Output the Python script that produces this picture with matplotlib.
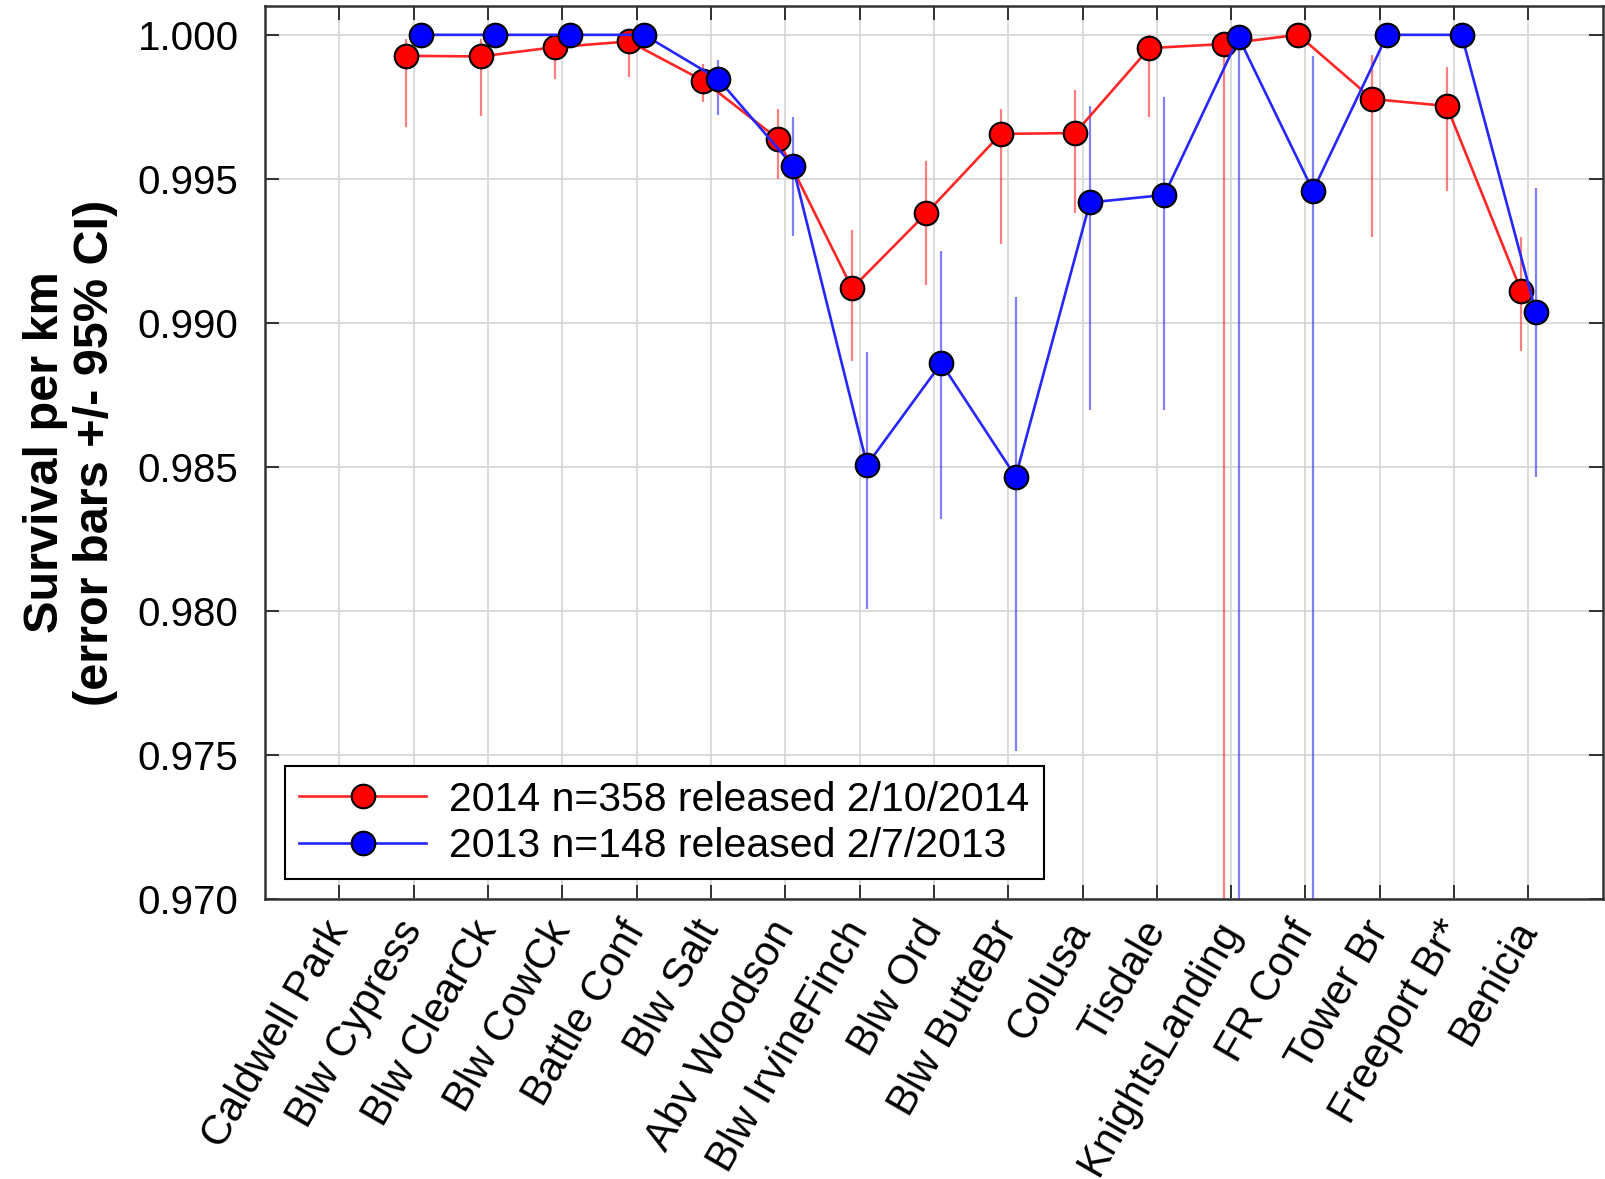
import numpy as np
import matplotlib.pyplot as plt

plt.rcParams['font.family'] = ['Liberation Sans', 'DejaVu Sans']

# reach names (upstream -> downstream)
sites = ["Caldwell Park", "Blw Cypress", "Blw ClearCk", "Blw CowCk", "Battle Conf",
         "Blw Salt", "Abv Woodson", "Blw IrvineFinch", "Blw Ord", "Blw ButteBr",
         "Colusa", "Tisdale", "KnightsLanding", "FR Conf", "Tower Br",
         "Freeport Br*", "Benicia"]

nan = np.nan
# 2014 release: survival per km and 95% CI
surv_2014 = [nan, 0.99927, 0.99925, 0.99957, 0.99977, 0.99840, 0.99639, 0.99120, 0.99381,
             0.99656, 0.99659, 0.99954, 0.99968, 1.000, 0.99777, 0.99753, 0.99112]
lo_2014 = [nan, 0.99680, 0.99719, 0.99847, 0.99852, 0.99768, 0.99500, 0.98868, 0.99130,
           0.99274, 0.99381, 0.99713, 0.950, 1.000, 0.99298, 0.99459, 0.98904]
hi_2014 = [nan, 0.99985, 0.99985, 1.000, 1.000, 0.99900, 0.99742, 0.99321, 0.99563,
           0.99744, 0.99809, 1.000, 1.000, 1.000, 0.99931, 0.99887, 0.99298]

# 2013 release
surv_2013 = [nan, 1.000, 1.000, 1.000, 1.000, 0.99846, 0.99546, 0.98507, 0.98860,
             0.98466, 0.99418, 0.99444, 0.99991, 0.99459, 1.000, 1.000, 0.99037]
lo_2013 = [nan, 1.000, 1.000, 1.000, 1.000, 0.99722, 0.99300, 0.98006, 0.98318,
           0.97514, 0.98698, 0.98696, 0.950, 0.950, 1.000, 1.000, 0.98464]
hi_2013 = [nan, 1.000, 1.000, 1.000, 1.000, 0.99913, 0.99714, 0.98898, 0.99251,
           0.99091, 0.99753, 0.99784, 1.000, 0.99927, 1.000, 1.000, 0.99468]

x = np.arange(1, len(sites) + 1)
off = 0.1  # small dodge so the two years don't sit on top of each other

fig = plt.figure(figsize=(16.06, 11.79), dpi=100)
ax = fig.add_axes([0.165, 0.2375, 0.833, 0.7574])

# error bars (behind markers)
ax.vlines(x - off, lo_2014, hi_2014, color='red', lw=1.6, alpha=0.5, zorder=2)
ax.vlines(x + off, lo_2013, hi_2013, color='blue', lw=1.6, alpha=0.5, zorder=2)

ax.plot(x - off, surv_2014, color=(1, 0.15, 0.15), lw=1.9, marker='o', ms=17,
        mfc='red', mec='black', mew=1.5, zorder=3,
        label='2014 n=358 released 2/10/2014')
ax.plot(x + off, surv_2013, color=(0.15, 0.15, 1), lw=1.9, marker='o', ms=17,
        mfc='blue', mec='black', mew=1.5, zorder=4,
        label='2013 n=148 released 2/7/2013')

ax.set_xlim(0, 18)
ax.set_ylim(0.970, 1.001)
yt = np.arange(0.970, 1.0001, 0.005)
ax.set_yticks(yt)
ax.set_yticklabels([f'{v:.3f}' for v in yt])
ax.set_xticks(x)
ax.set_xticklabels(sites, rotation=60, ha='right', va='center', rotation_mode='anchor')

ax.grid(True, color='#d4d4d4', lw=1.2)
ax.set_axisbelow(True)
ax.tick_params(direction='in', length=10, width=1.3, top=True, right=True,
               color='#222222')
ax.tick_params(axis='y', labelsize=29, pad=19)
ax.tick_params(axis='x', labelsize=30, pad=18)
for s in ax.spines.values():
    s.set_linewidth(1.8)
    s.set_color('#333333')

ax.set_ylabel('Survival per km\n(error bars +/- 95% CI)', fontsize=35,
              fontweight='bold', linespacing=1.15, labelpad=14)

leg = ax.legend(loc='lower left', bbox_to_anchor=(0.015, 0.022), borderaxespad=0,
                fontsize=29.5, handlelength=3.1, handletextpad=0.55, labelspacing=0.2,
                borderpad=0.35, fancybox=False, framealpha=1)
leg.get_frame().set_edgecolor('black')
leg.get_frame().set_linewidth(1.5)

fig.savefig('out.png', dpi=100)
